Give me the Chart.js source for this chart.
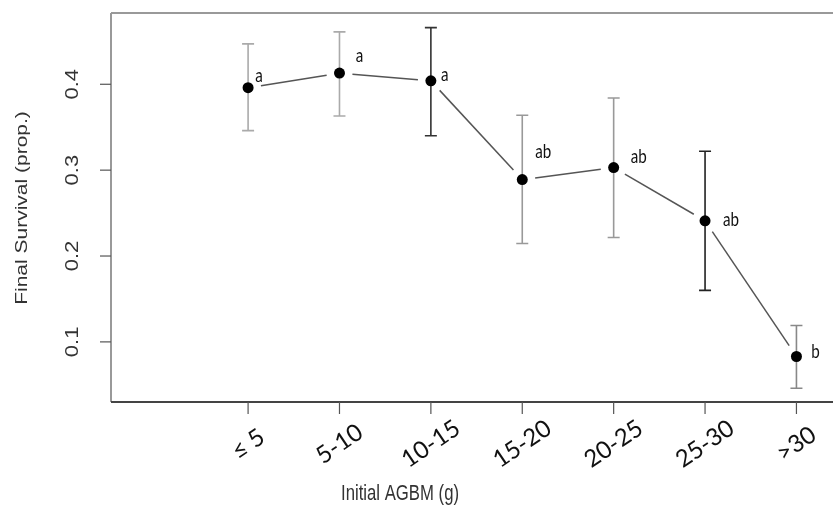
<!DOCTYPE html>
<html>
<head>
<meta charset="utf-8">
<script src="https://cdn.jsdelivr.net/npm/chart.js@4"></script>
<style>
  body { margin: 0; background: #fff; }
  canvas { display: block; }
</style>
</head>
<body>
<canvas id="myChart" width="833" height="506"></canvas>
<script>
  const categories = ['≤ 5', '5-10', '10-15', '15-20', '20-25', '25-30', '>30']
  const survival = [0.396, 0.413, 0.404, 0.289, 0.303, 0.241, 0.083]
  const upper = [0.447, 0.461, 0.466, 0.364, 0.384, 0.322, 0.119]
  const lower = [0.346, 0.363, 0.340, 0.2145, 0.2215, 0.160, 0.046]
  const groups = ['a', 'a', 'a', 'ab', 'ab', 'ab', 'b']
  const yTicks = [0.1, 0.2, 0.3, 0.4]

  // styling only
  const barColors = ['#aaa', '#aaa', '#333', '#999', '#999', '#222', '#888']
  const letterOffsets = [[11, -12], [20, -17], [14, -6], [21, -28], [25, -11], [26, -1], [19, -5]]
  const squeeze = 0.8 // the picture is squashed horizontally

  const points = survival.map((v, i) => ({ x: i, y: v }))

  const drawText = (ctx, text, x, y, font, color, angle, sq) => {
    ctx.save()
    ctx.translate(x, y)
    ctx.scale(sq, 1)
    ctx.rotate(angle)
    ctx.font = font
    ctx.fillStyle = color
    ctx.textAlign = 'center'
    ctx.textBaseline = 'middle'
    ctx.fillText(text, 0, 0)
    ctx.restore()
  }

  const rPlot = {
    id: 'rPlot',
    beforeDatasetsDraw(chart) {
      const ctx = chart.ctx
      const xs = chart.scales.x
      const ys = chart.scales.y
      const px = points.map(p => [xs.getPixelForValue(p.x), ys.getPixelForValue(p.y)])

      // connecting lines with gaps (type = "b")
      ctx.save()
      ctx.strokeStyle = '#555'
      ctx.lineWidth = 1.5
      const gap = 13
      for (let i = 0; i < px.length - 1; i++) {
        const [x0, y0] = px[i]
        const [x1, y1] = px[i + 1]
        const len = Math.hypot(x1 - x0, y1 - y0)
        if (len <= gap * 2) continue
        const ux = (x1 - x0) / len, uy = (y1 - y0) / len
        ctx.beginPath()
        ctx.moveTo(x0 + ux * gap, y0 + uy * gap)
        ctx.lineTo(x1 - ux * gap, y1 - uy * gap)
        ctx.stroke()
      }

      // error bars
      categories.forEach((c, i) => {
        const x = xs.getPixelForValue(i)
        const yt = ys.getPixelForValue(upper[i])
        const yb = ys.getPixelForValue(lower[i])
        ctx.strokeStyle = barColors[i]
        ctx.lineWidth = 1.6
        ctx.beginPath()
        ctx.moveTo(x, yt); ctx.lineTo(x, yb)
        ctx.moveTo(x - 6, yt); ctx.lineTo(x + 6, yt)
        ctx.moveTo(x - 6, yb); ctx.lineTo(x + 6, yb)
        ctx.stroke()
      })
      ctx.restore()
    },
    afterDraw(chart) {
      const ctx = chart.ctx
      const { left, right, top, bottom } = chart.chartArea
      const xs = chart.scales.x
      const ys = chart.scales.y

      ctx.save()
      // frame
      ctx.lineWidth = 1.5
      ctx.strokeStyle = '#777'
      ctx.beginPath()
      ctx.moveTo(left, top); ctx.lineTo(left, bottom)
      ctx.stroke()
      ctx.strokeStyle = '#999'
      ctx.lineWidth = 2
      ctx.beginPath()
      ctx.moveTo(left, top); ctx.lineTo(right, top)
      ctx.stroke()
      ctx.strokeStyle = '#444'
      ctx.beginPath()
      ctx.moveTo(left, bottom); ctx.lineTo(right, bottom)
      ctx.stroke()

      // y ticks
      ctx.lineWidth = 1.2
      ctx.strokeStyle = '#555'
      yTicks.forEach(t => {
        const y = ys.getPixelForValue(t)
        ctx.beginPath()
        ctx.moveTo(left - 11, y); ctx.lineTo(left, y)
        ctx.stroke()
        drawText(ctx, t.toFixed(1), 73, y, '22px "Liberation Sans", Arial, sans-serif', '#333', -Math.PI / 2, squeeze)
      })

      // x ticks
      categories.forEach((c, i) => {
        const x = xs.getPixelForValue(i)
        ctx.beginPath()
        ctx.moveTo(x, bottom); ctx.lineTo(x, bottom + 12)
        ctx.stroke()
        drawText(ctx, c, x, 444, '24px Lato, "Open Sans", sans-serif', '#111', -0.6, 1)
      })
      ctx.restore()

      // group letters
      points.forEach((p, i) => {
        const x = xs.getPixelForValue(p.x) + letterOffsets[i][0]
        const y = ys.getPixelForValue(p.y) + letterOffsets[i][1]
        drawText(ctx, groups[i], x, y, '19px Lato, "Open Sans", sans-serif', '#111', 0, squeeze)
      })

      // axis titles
      drawText(ctx, 'Final Survival (prop.)', 22, 208, '21px "Liberation Sans", Arial, sans-serif', '#333', -Math.PI / 2, squeeze)
      drawText(ctx, 'Initial AGBM (g)', 400, 494, '22px "Liberation Sans", Arial, sans-serif', '#333', 0, 0.76)
    }
  }

  const initializeChart = () => {
    const ctx = document.getElementById('myChart')
    new Chart(ctx, {
      type: 'line',
      data: {
        datasets: [{
          label: 'Final survival',
          data: points,
          showLine: false,
          pointRadius: 5.5,
          pointHoverRadius: 5.5,
          pointBackgroundColor: '#000',
          pointBorderColor: '#000',
          pointBorderWidth: 0
        }]
      },
      options: {
        responsive: false,
        animation: false,
        layout: { autoPadding: false, padding: { left: 111, top: 13, right: 0, bottom: 104 } },
        plugins: { legend: { display: false }, tooltip: { enabled: false } },
        scales: {
          x: { type: 'linear', min: -1.5, max: 6.4, display: false },
          y: { type: 'linear', min: 0.03, max: 0.483, display: false }
        }
      },
      plugins: [rPlot]
    })
  }

  initializeChart()
</script>
</body>
</html>
